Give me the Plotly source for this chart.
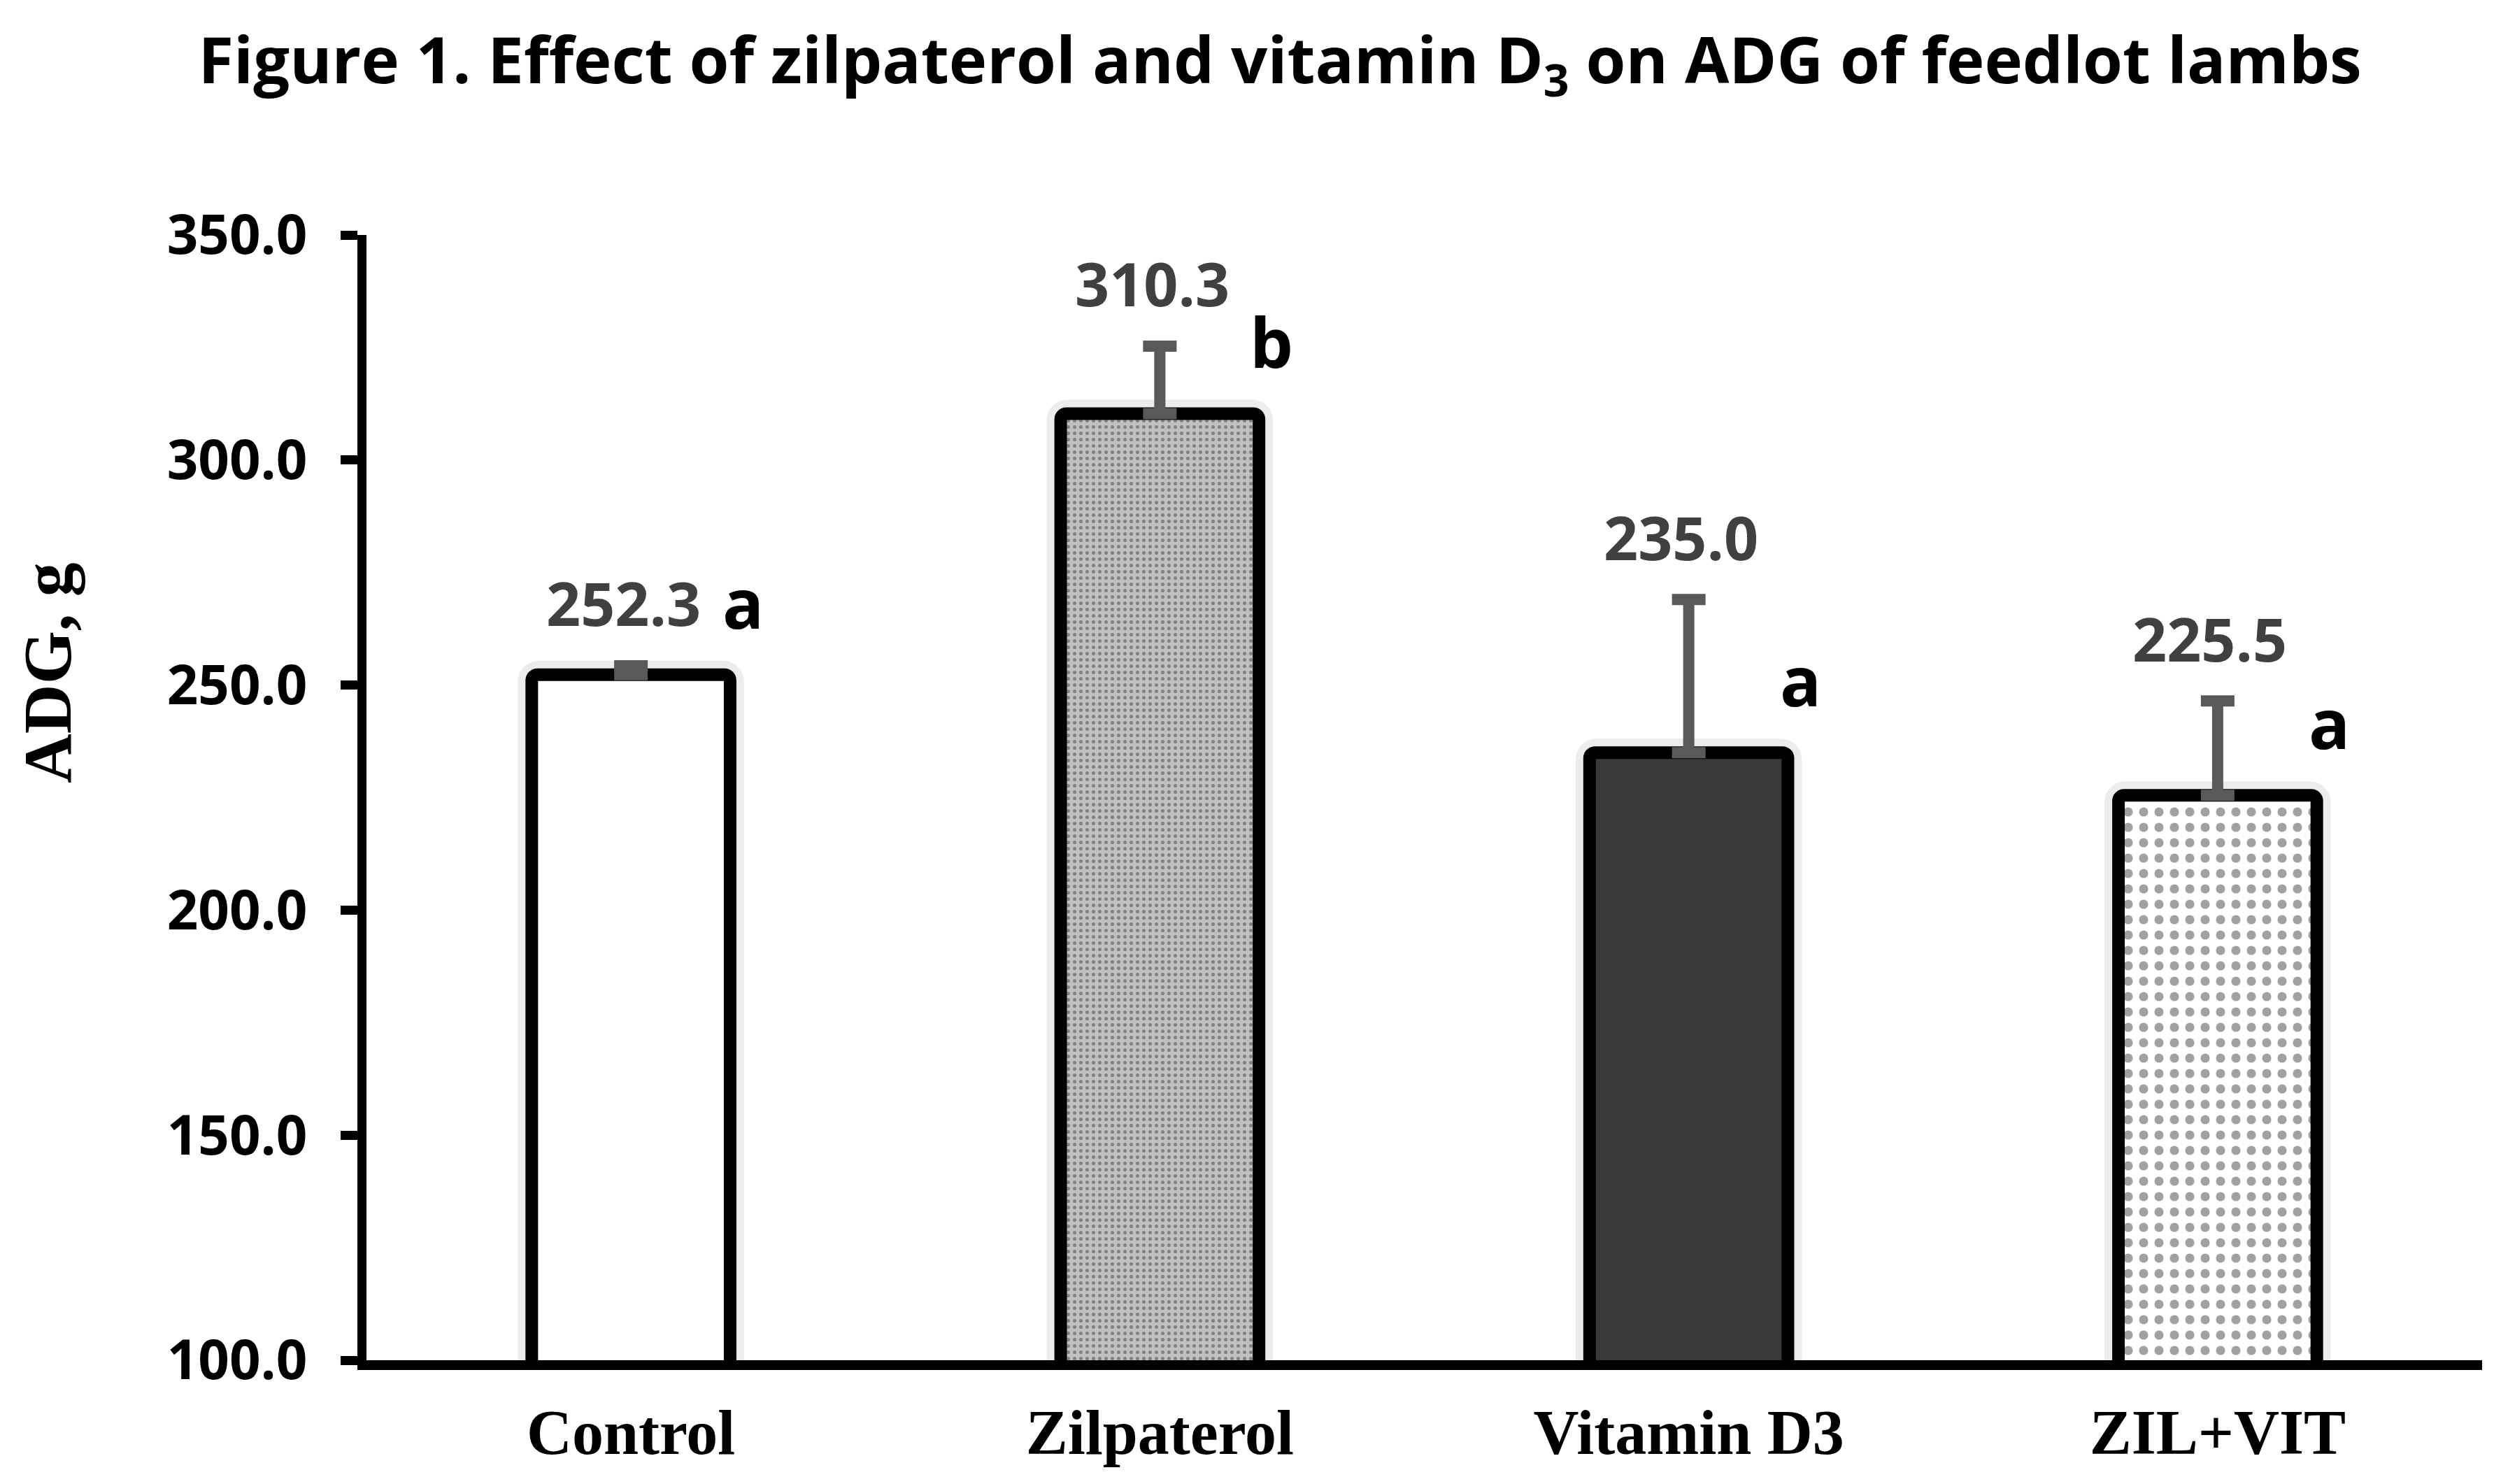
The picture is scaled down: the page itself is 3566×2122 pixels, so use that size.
import plotly.graph_objects as go

# data
categories = ["Control", "Zilpaterol", "Vitamin D3", "ZIL+VIT"]
adg = [252.3, 310.3, 235.0, 225.5]
sem = [2.0, 15.0, 34.0, 21.0]
letters = ["a", "b", "a", "a"]
y_ticks = [100, 150, 200, 250, 300, 350]

# per bar fill styles
fill = ["#ffffff", "#c0c0c0", "#3a3937", "#ffffff"]
pat_shape = ["", ".", "", "."]
pat_fg = ["#ffffff", "#cfcfcf", "#3a3937", "#000000"]
pat_bg = ["#ffffff", "#bdbdbd", "#3a3937", "#ffffff"]
pat_size = [10, 9, 10, 22]
pat_solid = [0.1, 0.25, 0.1, 0.28]

sans = "Open Sans, sans-serif"
serif = "Liberation Serif, Times New Roman, serif"

fig = go.Figure()

# soft glow behind the bars
fig.add_trace(go.Bar(
    x=categories, y=adg, width=0.375,
    marker=dict(color="rgba(0,0,0,0)", line=dict(color="#ececec", width=40),
                cornerradius=10),
    hoverinfo="skip", showlegend=False,
))

fig.add_trace(go.Bar(
    x=categories, y=adg, width=0.375,
    marker=dict(
        color=fill,
        line=dict(color="#000000", width=18),
        cornerradius=8,
        pattern=dict(shape=pat_shape, fgcolor=pat_fg, bgcolor=pat_bg,
                     size=pat_size, solidity=pat_solid),
    ),
    error_y=dict(type="data", symmetric=False, array=sem,
                 arrayminus=[0] * len(sem), color="#595959",
                 thickness=16, width=24),
    showlegend=False,
))

annotations = []
for cat, v, e, let in zip(categories, adg, sem, letters):
    annotations.append(dict(
        x=cat, y=v + e, text=f"{v:.1f}", showarrow=False,
        xshift=-11, yshift=90, yanchor="middle",
        font=dict(family=sans, size=86, color="#404040", weight="bold"),
    ))
    annotations.append(dict(
        x=cat, y=v, text=let, showarrow=False,
        xshift=160, yshift=104, yanchor="middle",
        font=dict(family=sans, size=98, color="#000000", weight="bold"),
    ))

annotations.append(dict(
    xref="paper", yref="paper", x=0, y=0.611, xshift=-456,
    text="ADG, g", textangle=-90, showarrow=False,
    xanchor="center", yanchor="middle",
    font=dict(family=serif, size=98, color="#000000", weight="bold"),
))

fig.update_layout(
    width=3566, height=2122,
    margin=dict(l=516, r=25, t=328, b=185),
    paper_bgcolor="white", plot_bgcolor="white",
    barmode="overlay",
    title=dict(
        text="Figure 1. Effect of zilpaterol and vitamin D<sub>3</sub> on ADG of feedlot lambs",
        x=0.511, xanchor="center", y=0.963, yanchor="middle",
        font=dict(family=sans, size=92, color="#000000", weight="bold"),
    ),
    annotations=annotations,
)

fig.update_xaxes(
    range=[-0.5, 3.5], showline=True, linecolor="#000000", linewidth=14,
    ticks="", showgrid=False, zeroline=False, ticklabelstandoff=12,
    automargin=False,
    tickfont=dict(family=serif, size=90, color="#000000", weight="bold"),
)
fig.update_yaxes(
    range=[100, 350], tickvals=y_ticks, tickformat=".1f",
    showline=True, linecolor="#000000", linewidth=13,
    ticks="outside", ticklen=24, tickwidth=13, tickcolor="#000000",
    showgrid=False, zeroline=False, ticklabelstandoff=32, automargin=False,
    tickfont=dict(family=sans, size=78, color="#000000", weight="bold"),
)

fig.write_html("out.html")
